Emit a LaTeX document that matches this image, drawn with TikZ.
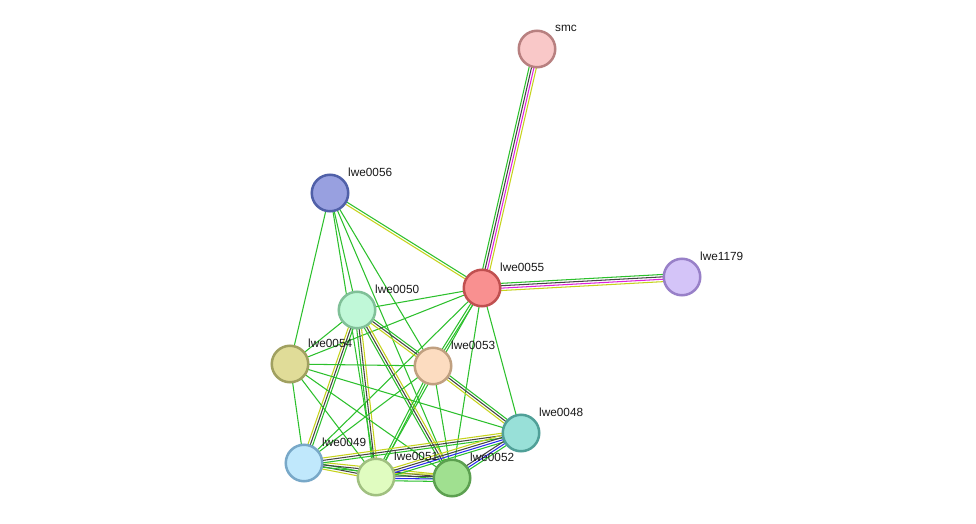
\documentclass[tikz,border=0pt]{standalone}
\usepackage{fontspec}
\setmainfont{Liberation Sans}
\usetikzlibrary{calc}
\definecolor{eg}{HTML}{2CC02C}
\definecolor{ek}{HTML}{444444}
\definecolor{ey}{HTML}{C6D31C}
\definecolor{em}{HTML}{DD22DD}
\definecolor{eb}{HTML}{2A2AEE}
\pgfdeclarelayer{bg}
\pgfdeclarelayer{paper}
\pgfsetlayers{paper,bg,main}
\newcommand{\sedge}[4]{%
  \foreach \ecol [count=\i] in {#4} {%
    \pgfmathsetmacro\off{(\i-1-(#3-1)/2)*2.4}%
    \draw[\ecol, line width=1.05pt] ($(#1)!\off pt!90:(#2)$) -- ($(#2)!\off pt!-90:(#1)$);
  }}
\tikzset{
  prot/.style 2 args={circle, minimum size=36.5pt, inner sep=0pt, line width=2.5pt, draw=#2, fill=#1},
  plabel/.style={anchor=west, inner sep=0pt, font=\fontsize{11.8}{14}\selectfont, text=black!90}
}
\definecolor{csmc}{HTML}{F9C8C8}\definecolor{bsmc}{HTML}{B88080}
\definecolor{c56}{HTML}{98A0E0}\definecolor{b56}{HTML}{5060A8}
\definecolor{c55}{HTML}{F99090}\definecolor{b55}{HTML}{C05050}
\definecolor{c79}{HTML}{D4C4F8}\definecolor{b79}{HTML}{9880C8}
\definecolor{c50}{HTML}{C0F8D8}\definecolor{b50}{HTML}{80C098}
\definecolor{c54}{HTML}{E0DC98}\definecolor{b54}{HTML}{A0A060}
\definecolor{c53}{HTML}{FCDCC0}\definecolor{b53}{HTML}{C0A080}
\definecolor{c48}{HTML}{98E0D8}\definecolor{b48}{HTML}{50A098}
\definecolor{c49}{HTML}{C0E8FC}\definecolor{b49}{HTML}{78A8C8}
\definecolor{c51}{HTML}{E0FCC0}\definecolor{b51}{HTML}{A0C080}
\definecolor{c52}{HTML}{A0E090}\definecolor{b52}{HTML}{5CA050}
\begin{document}
\begin{tikzpicture}[x=1pt,y=-1pt]
\useasboundingbox (0,0) rectangle (976,524);
\begin{pgfonlayer}{paper}
\fill[white] (0,0) rectangle (976,524);
\end{pgfonlayer}
% nodes
\node[prot={csmc}{bsmc}] (smc) at (537,49) {};
\node[prot={c56}{b56}] (n56) at (330,193) {};
\node[prot={c55}{b55}] (n55) at (482,288) {};
\node[prot={c79}{b79}] (n79) at (682,277) {};
\node[prot={c50}{b50}] (n50) at (357,310) {};
\node[prot={c54}{b54}] (n54) at (290,364) {};
\node[prot={c53}{b53}] (n53) at (433,366) {};
\node[prot={c48}{b48}] (n48) at (521,433) {};
\node[prot={c49}{b49}] (n49) at (304,463) {};
\node[prot={c51}{b51}] (n51) at (376,477) {};
\node[prot={c52}{b52}] (n52) at (452,478) {};
% labels
\node[plabel] (lsmc) at ($(smc)+(18,-21)$) {smc};
\node[plabel] (l56) at ($(n56)+(18,-21)$) {lwe0056};
\node[plabel] (l55) at ($(n55)+(18,-21)$) {lwe0055};
\node[plabel] (l79) at ($(n79)+(18,-21)$) {lwe1179};
\node[plabel] (l50) at ($(n50)+(18,-21)$) {lwe0050};
\node[plabel] (l54) at ($(n54)+(18,-21)$) {lwe0054};
\node[plabel] (l53) at ($(n53)+(18,-21)$) {lwe0053};
\node[plabel] (l48) at ($(n48)+(18,-21)$) {lwe0048};
\node[plabel] (l49) at ($(n49)+(18,-21)$) {lwe0049};
\node[plabel] (l51) at ($(n51)+(18,-21)$) {lwe0051};
\node[plabel] (l52) at ($(n52)+(18,-21)$) {lwe0052};
% edges
\begin{pgfonlayer}{bg}
\sedge{smc}{n55}{4}{eg,ek,em,ey}
\sedge{n55}{n79}{4}{ey,em,ek,eg}
\sedge{n56}{n55}{2}{ey,eg}
\sedge{n56}{n54}{1}{eg}
\sedge{n56}{n50}{1}{eg}
\sedge{n56}{n51}{1}{eg}
\sedge{n56}{n52}{1}{eg}
\sedge{n56}{n53}{1}{eg}
\sedge{n55}{n50}{1}{eg}
\sedge{n55}{n54}{1}{eg}
\sedge{n55}{n53}{2}{eg,eg}
\sedge{n55}{n49}{1}{eg}
\sedge{n55}{n51}{1}{eg}
\sedge{n55}{n52}{1}{eg}
\sedge{n55}{n48}{1}{eg}
\sedge{n50}{n54}{1}{eg}
\sedge{n50}{n53}{3}{ey,ek,eg}
\sedge{n53}{n48}{3}{ey,ek,eg}
\sedge{n50}{n49}{3}{ey,ek,eg}
\sedge{n50}{n51}{3}{eg,ek,ey}
\sedge{n50}{n52}{3}{eg,ek,ey}
\sedge{n54}{n53}{1}{eg}
\sedge{n54}{n49}{1}{eg}
\sedge{n54}{n51}{1}{eg}
\sedge{n54}{n52}{1}{eg}
\sedge{n54}{n48}{1}{eg}
\sedge{n53}{n49}{1}{eg}
\sedge{n53}{n51}{2}{eg,eg}
\sedge{n53}{n52}{1}{eg}
\sedge{n49}{n51}{3}{ey,ek,eg}
\sedge{n49}{n52}{3}{eg,ek,ey}
\sedge{n49}{n48}{3}{eg,ek,ey}
\sedge{n51}{n52}{4}{eg,eb,ek,ey}
\sedge{n51}{n48}{4}{eg,eb,ek,ey}
\sedge{n52}{n48}{3}{eg,eb,ek}
\end{pgfonlayer}
\end{tikzpicture}
\end{document}
